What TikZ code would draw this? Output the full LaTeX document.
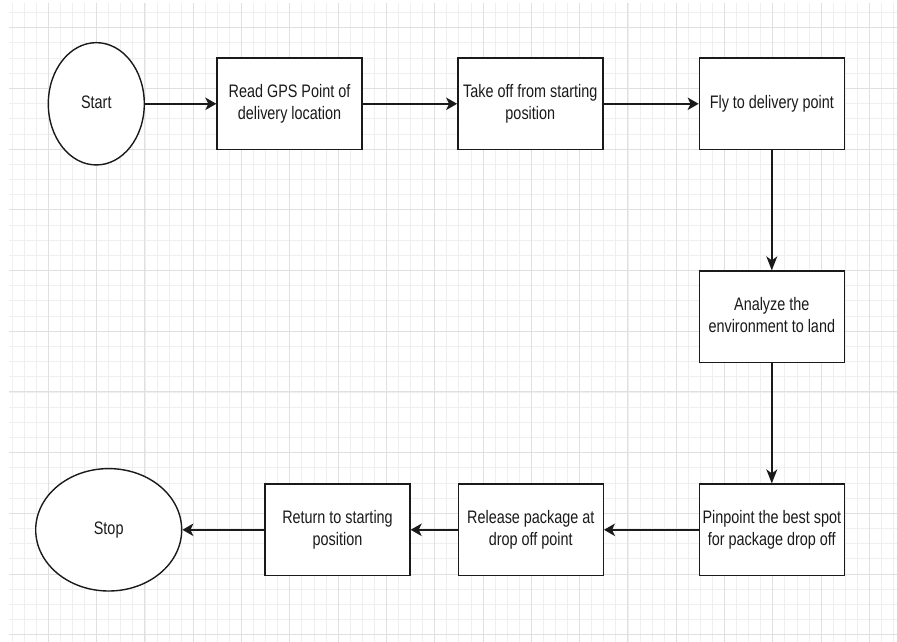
\documentclass[tikz,border=0pt]{standalone}
\usepackage{fontspec}
\setmainfont{Liberation Sans}
\usetikzlibrary{arrows.meta,shapes.geometric}
\newcommand{\ystr}{1.257}
\newcommand{\lbl}[1]{\scalebox{1}[\ystr]{\fontsize{14.4pt}{17.3pt}\selectfont\begin{tabular}{@{}c@{}}#1\end{tabular}}}
\definecolor{gridminor}{HTML}{EFEFEF}
\definecolor{gridmajor}{HTML}{E0E0E0}
\definecolor{ink}{HTML}{1A1A1A}
\tikzset{
  procbox/.style={draw=ink, line width=1.4pt, rectangle, fill=white, inner sep=0pt,
    minimum width=145pt, minimum height=91.5pt, text=ink},
  termnode/.style={draw=ink, line width=1.4pt, ellipse, fill=white, inner sep=0pt, text=ink},
  harrow/.style={draw=ink, line width=1.4pt, -{Stealth[length=11pt,width=12.5pt,inset=3pt]}},
  varrow/.style={draw=ink, line width=1.4pt, -{Stealth[length=14pt,width=11pt,inset=4pt]}},
}
\begin{document}
\begin{tikzpicture}[x=1pt,y=-1pt]
\useasboundingbox (0,0) rectangle (897,642);
\fill[white] (0,0) rectangle (897,642);
% grid
\begin{scope}
\clip (9,3) rectangle (897,642);
\foreach \i in {1,...,74} {
  \draw[gridminor, line width=0.8pt] ({12.075*\i},3) -- ({12.075*\i},642);
}
\foreach \j in {-1,...,41} {
  \draw[gridminor, line width=0.8pt] (9,{27.7+15.175*\j}) -- (897,{27.7+15.175*\j});
}
\foreach \i in {1,...,18} {
  \draw[gridmajor, line width=1pt] ({48.3*\i},3) -- ({48.3*\i},642);
}
\foreach \j in {0,...,10} {
  \draw[gridmajor, line width=1pt] (9,{27.7+60.7*\j}) -- (897,{27.7+60.7*\j});
}
\end{scope}
% nodes
\node[termnode, minimum width=96pt, minimum height=122.3pt] (start) at (96.3,103.8) {\lbl{Start}};
\node[procbox] (b1) at (289.5,103.8) {\lbl{Read GPS Point of\\delivery location}};
\node[procbox] (b2) at (530.3,103.8) {\lbl{Take off from starting\\position}};
\node[procbox] (b3) at (771.8,103.8) {\lbl{Fly to delivery point}};
\node[procbox] (b4) at (771.8,316.8) {\lbl{Analyze the\\environment to land}};
\node[procbox] (b5) at (771.8,529.8) {\lbl{Pinpoint the best spot\\for package drop off}};
\node[procbox] (b6) at (530.8,529.8) {\lbl{Release package at\\drop off point}};
\node[procbox] (b7) at (337.5,529.8) {\lbl{Return to starting\\position}};
\node[termnode, minimum width=146pt, minimum height=122.4pt] (stop) at (108.7,529.8) {\lbl{Stop}};
% connectors
\draw[harrow] (start.east) -- (b1.west);
\draw[harrow] (b1.east) -- (b2.west);
\draw[harrow] (b2.east) -- (b3.west);
\draw[varrow] (b3.south) -- (b4.north);
\draw[varrow] (b4.south) -- (b5.north);
\draw[harrow] (b5.west) -- (b6.east);
\draw[harrow] (b6.west) -- (b7.east);
\draw[harrow] (b7.west) -- (stop.east);
\end{tikzpicture}
\end{document}
